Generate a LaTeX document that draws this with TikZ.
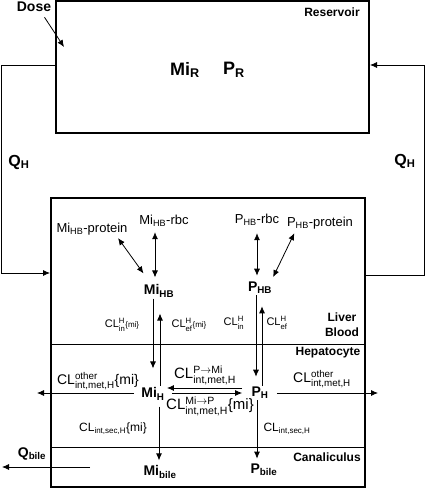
\documentclass[tikz,border=0pt]{standalone}
\usepackage{amsmath}
\usepackage{fontspec}
\setmainfont{Liberation Sans}
\usetikzlibrary{arrows.meta}
\newcommand{\fsz}[1]{\fontsize{#1}{#1}\selectfont}
\tikzset{
  comp/.style={font=\bfseries\fsz{14}, inner sep=1pt},
  bind/.style={font=\fsz{13}, inner sep=1pt},
  rate/.style={font=\fsz{14}, inner sep=1pt},
  region/.style={font=\bfseries\fontsize{12}{15}\selectfont, inner sep=1pt, align=center},
  flow/.style={font=\bfseries\fsz{16}, inner sep=1pt},
}
\begin{document}
\begin{tikzpicture}[>={Latex[length=7pt,width=6pt]}, x=1pt, y=-1pt, line width=0.8pt]
\useasboundingbox (0,0) rectangle (425,488);
% compartments
\node[draw, line width=2pt, minimum width=313pt, minimum height=132pt] (res) at (212.5,67) {};
\node[draw, line width=2pt, minimum width=314pt, minimum height=289pt] (liver) at (208,342) {};
\draw (liver.west |- 0,344) -- (liver.east |- 0,344);
\draw (liver.west |- 0,447) -- (liver.east |- 0,447);
\node[region] (resl) at (332,12) {Reservoir};
\node[region] (blood) at (342,325) {Liver\\Blood};
\node[region] (hepa) at (328,353) {Hepatocyte};
\node[region] (cana) at (327,457) {Canaliculus};

% reservoir
\node[comp, font=\bfseries\fsz{18}] (mir) at (185,70) {Mi$_\text{R}$};
\node[comp, font=\bfseries\fsz{18}] (pr) at (234,70) {P$_\text{R}$};
\node[comp] (dose) at (34,7) {Dose};
\coordinate (dosein) at (64,47);
\draw[->] ([shift={(-8pt,-4pt)}]dose.south east) -- (dosein);

% blood flow
\draw[->] ([yshift=2pt]res.west) -- ++(-54,0) |- ([yshift=69pt]liver.west);
\draw[->] ([yshift=67pt]liver.east) -- ++(58,0) |- ([yshift=2pt]res.east);
\node[flow] (qhl) at (19,162) {Q$_\text{H}$};
\node[flow] (qhr) at (405,161) {Q$_\text{H}$};

% liver blood
\node[bind] (mihbp) at (92,229) {Mi$_\text{HB}$-protein};
\node[bind] (mihbr) at (164,221) {Mi$_\text{HB}$-rbc};
\node[comp] (mihb) at (159,291) {Mi$_\text{HB}$};
\node[bind] (phbr) at (257,220) {P$_\text{HB}$-rbc};
\node[bind] (phbp) at (320,223) {P$_\text{HB}$-protein};
\node[comp] (phb) at (260,288) {P$_\text{HB}$};
\draw[<->, shorten <=2pt] ([xshift=-12pt]mihbp.south east) -- ([shift={(1pt,10pt)}]mihb.north west);
\draw[<->, shorten <=4pt, shorten >=6pt] ([xshift=-9pt]mihbr.south) -- ([xshift=-4pt]mihb.north);
\draw[<->, shorten <=6pt, shorten >=5pt] (phbr.south) -- ([xshift=-3pt]phb.north);
\draw[<->, shorten <=3pt, shorten >=4pt] ([xshift=10pt]phbp.south west) -- ([xshift=-2pt]phb.north east);

% hepatocyte
\node[comp] (mih) at (153,394) {Mi$_\text{H}$};
\node[comp] (ph) at (260,393) {P$_\text{H}$};
\draw[->, shorten >=18pt] ([xshift=-6pt]mihb.south) -- (mih.north);
\draw[<-, shorten <=15pt] ([xshift=1pt]mihb.south) -- ([xshift=7pt]mih.north);
\draw[->, shorten >=9pt] ([xshift=-4pt]phb.south) -- ([xshift=-4pt]ph.north);
\draw[<-, shorten <=11pt] ([xshift=2pt]phb.south) -- ([xshift=2pt]ph.north);
\node[rate, font=\fsz{11}] (clinmi) at (122,325) {CL$^{\text{H}}_{\text{in}}${\fsz{8}\{mi\}}};
\node[rate, font=\fsz{11}] (clefmi) at (189,325) {CL$^{\text{H}}_{\text{ef}}${\fsz{8}\{mi\}}};
\node[rate, font=\fsz{11}] (clinp) at (234,323) {CL$^{\text{H}}_{\text{in}}$};
\node[rate, font=\fsz{11}] (clefp) at (277,323) {CL$^{\text{H}}_{\text{ef}}$};

\draw[->, shorten <=8pt, shorten >=1pt] ([yshift=5pt]ph.west) -- ([yshift=6pt]mih.east);
\draw[->, shorten <=6pt, shorten >=8pt] ([yshift=1pt]mih.east) -- (ph.west);
\node[rate, font=\fsz{15}] (clpmi) at (205,375) {CL$^{\text{P$\rightarrow$Mi}}_{\text{int,met,H}}$};
\node[rate, font=\fsz{15}] (clmip) at (210,406) {CL$^{\text{Mi$\rightarrow$P}}_{\text{int,met,H}}$\{mi\}};

\coordinate (miout) at (37,393);
\coordinate (pout) at (378,393);
\draw[->, shorten <=6pt] ([yshift=1pt]mih.west) -- (miout);
\draw[->, shorten <=7pt] (ph.east) -- (pout);
\node[rate] (clmiot) at (98,381) {CL$^{\text{other}}_{\text{int,met,H}}$\{mi\}};
\node[rate] (clpot) at (322,379) {CL$^{\text{other}}_{\text{int,met,H}}$};

% canaliculus
\node[comp] (mibile) at (160,472) {Mi$_\text{bile}$};
\node[comp] (pbile) at (264,470) {P$_\text{bile}$};
\draw[->, shorten <=5pt, shorten >=4pt] ([xshift=6pt]mih.south) -- ([xshift=-1pt]mibile.north);
\draw[->, shorten >=4pt] ([xshift=-3pt]ph.south) -- ([xshift=-7pt]pbile.north);
\node[rate, font=\fsz{12}] (clsecmi) at (113,429) {CL$_{\text{int,sec,H}}$\{mi\}};
\node[rate, font=\fsz{12}] (clsecp) at (287,429) {CL$_{\text{int,sec,H}}$};

\node[comp] (qbile) at (32,454) {Q$_\text{bile}$};
\coordinate (bilein) at (90,467);
\coordinate (bileout) at (2,467);
\draw[->] (bilein) -- (bileout);
\end{tikzpicture}
\end{document}
